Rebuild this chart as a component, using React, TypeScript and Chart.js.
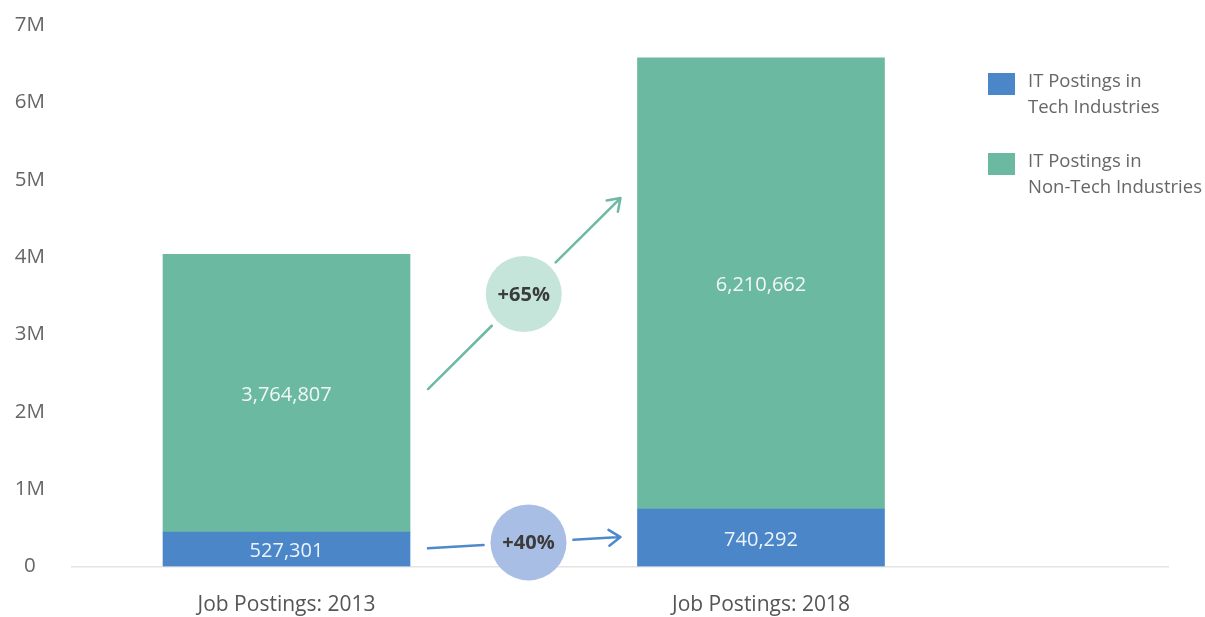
import React, { useEffect, useRef } from "react";
import { Chart, registerables } from "chart.js";

Chart.register(...registerables);

// ---- data ----
const categories = ["Job Postings: 2013", "Job Postings: 2018"];
const seriesNames = [
  ["IT Postings in", "Tech Industries"],
  ["IT Postings in", "Non-Tech Industries"],
];
// values printed on the bars
const techPrinted = [527301, 740292];
const nonTechPrinted = [3764807, 6210662];
// segment heights as drawn in the picture
const techBars = [445000, 742000];
const nonTechBars = [3590000, 5835000];
const yTicks = [0, 1000000, 2000000, 3000000, 4000000, 5000000, 6000000, 7000000];
const yTickLabels = ["0", "1M", "2M", "3M", "4M", "5M", "6M", "7M"];

// ---- styles ----
const FONT = "'Open Sans', 'Noto Sans', sans-serif";
const BLUE = "#4A86C8";
const GREEN = "#6CB9A2";
const GREEN_LINE = "#6DB9A3";
const BLUE_LINE = "#4E8ACB";
const GREEN_CIRCLE = "#C5E5DA";
const BLUE_CIRCLE = "#A9BEE5";

const growth = (a: number[]) => Math.round((a[1] / a[0] - 1) * 100);

const valueLabelsPlugin = {
  id: "valueLabels",
  afterDatasetsDraw(chart: any) {
    const ctx = chart.ctx;
    const printed = [techPrinted, nonTechPrinted];
    ctx.save();
    ctx.font = `20px ${FONT}`;
    ctx.fillStyle = "rgba(255,255,255,0.9)";
    ctx.textAlign = "center";
    ctx.textBaseline = "middle";
    chart.data.datasets.forEach((_: any, di: number) => {
      const meta = chart.getDatasetMeta(di);
      meta.data.forEach((el: any, i: number) => {
        const { x, y, base } = el.getProps(["x", "y", "base"], true);
        ctx.fillText(printed[di][i].toLocaleString("en-US"), x, (y + base) / 2 + 2);
      });
    });
    ctx.restore();
  },
};

function drawArrow(
  ctx: CanvasRenderingContext2D,
  x0: number, y0: number, x1: number, y1: number,
  cxVal: number, r: number, color: string, fill: string, text: string
) {
  const dx = x1 - x0, dy = y1 - y0;
  const len = Math.hypot(dx, dy);
  const ux = dx / len, uy = dy / len;
  const t = (cxVal - x0) / dx;
  const cx = x0 + dx * t, cy = y0 + dy * t;
  const gap = r + 7;
  ctx.save();
  ctx.strokeStyle = color;
  ctx.lineWidth = 2.5;
  ctx.lineCap = "round";
  ctx.lineJoin = "round";
  ctx.beginPath();
  ctx.moveTo(x0, y0);
  ctx.lineTo(cx - ux * gap, cy - uy * gap);
  ctx.moveTo(cx + ux * gap, cy + uy * gap);
  ctx.lineTo(x1, y1);
  // arrow head
  const ang = Math.atan2(dy, dx);
  const hl = 14;
  const spread = 0.6;
  ctx.moveTo(x1 - hl * Math.cos(ang - spread), y1 - hl * Math.sin(ang - spread));
  ctx.lineTo(x1, y1);
  ctx.lineTo(x1 - hl * Math.cos(ang + spread), y1 - hl * Math.sin(ang + spread));
  ctx.stroke();
  ctx.beginPath();
  ctx.arc(cx, cy, r, 0, Math.PI * 2);
  ctx.fillStyle = fill;
  ctx.fill();
  ctx.fillStyle = "#3b3b3b";
  ctx.font = `bold 20px ${FONT}`;
  ctx.textAlign = "center";
  ctx.textBaseline = "middle";
  ctx.fillText(text, cx, cy + 1);
  ctx.restore();
}

const growthPlugin = {
  id: "growthArrows",
  afterDraw(chart: any) {
    const ctx = chart.ctx;
    const xs = chart.scales.x;
    const ys = chart.scales.y;
    const b0 = chart.getDatasetMeta(0).data[0].getProps(["x", "width"], true);
    const b1 = chart.getDatasetMeta(0).data[1].getProps(["x", "width"], true);
    const xStart = b0.x + b0.width / 2 + 18;
    const xEnd = b1.x - b1.width / 2 - 17;
    // non-tech growth arrow
    drawArrow(
      ctx, xStart, ys.getPixelForValue(2294000), xEnd, ys.getPixelForValue(4763000),
      xs.getPixelForValue(0.5), 38, GREEN_LINE, GREEN_CIRCLE, `+${growth(nonTechPrinted)}%`
    );
    // tech growth arrow
    drawArrow(
      ctx, xStart, ys.getPixelForValue(235000), xEnd, ys.getPixelForValue(380000),
      xs.getPixelForValue(0.51), 38, BLUE_LINE, BLUE_CIRCLE, `+${growth(techPrinted)}%`
    );
  },
};

const legendPlugin = {
  id: "sideLegend",
  afterDraw(chart: any) {
    const ctx = chart.ctx;
    const colors = [BLUE, GREEN];
    ctx.save();
    ctx.font = `18.5px ${FONT}`;
    ctx.textAlign = "left";
    ctx.textBaseline = "middle";
    seriesNames.forEach((lines, i) => {
      const top = 73 + i * 80;
      ctx.fillStyle = colors[i];
      ctx.fillRect(988, top, 27, 22);
      ctx.fillStyle = "#666666";
      lines.forEach((ln, j) => ctx.fillText(ln, 1028, top + 9 + j * 26));
    });
    ctx.restore();
  },
};

export default function App() {
  const ref = useRef<HTMLCanvasElement>(null);
  useEffect(() => {
    document.body.style.margin = "0";
    const canvas = ref.current!;
    const chart = new Chart(canvas, {
      type: "bar",
      data: {
        datasets: [
          {
            label: seriesNames[0].join(" "),
            data: techBars.map((v, i) => ({ x: i, y: v })),
            backgroundColor: BLUE,
            borderWidth: 0,
            barThickness: 247,
          },
          {
            label: seriesNames[1].join(" "),
            data: nonTechBars.map((v, i) => ({ x: i, y: v })),
            backgroundColor: GREEN,
            borderWidth: 0,
            barThickness: 247,
          },
        ],
      } as any,
      options: {
        animation: false,
        responsive: false,
        layout: { padding: { top: 25, right: 37, left: 0, bottom: 0 } },
        plugins: { legend: { display: false }, tooltip: { enabled: false } },
        scales: {
          x: {
            type: "linear",
            stacked: true,
            offset: false,
            bounds: "data",
            min: -0.4521,
            max: 1.8578,
            grid: { display: false, drawTicks: false },
            border: { display: true, color: "#e4e4e4", width: 1.5 },
            afterBuildTicks: (s: any) => {
              s.ticks = categories.map((_, i) => ({ value: i }));
            },
            afterFit: (s: any) => {
              s.height = 50.5;
              s.paddingLeft = 0;
              s.paddingRight = 0;
            },
            ticks: {
              padding: 26,
              color: "#555555",
              font: { family: FONT, size: 21 },
              autoSkip: false,
              maxRotation: 0,
              callback: (v: any) => categories[v] ?? "",
            },
          },
          y: {
            stacked: true,
            min: 0,
            max: 7000000,
            grid: { display: false, drawTicks: false },
            border: { display: false },
            afterBuildTicks: (s: any) => {
              s.ticks = yTicks.map((v) => ({ value: v }));
            },
            afterFit: (s: any) => {
              s.width = 72;
              s.paddingTop = 0;
              s.paddingBottom = 0;
            },
            ticks: {
              padding: 27,
              crossAlign: "center",
              color: "#666666",
              font: { family: FONT, size: 20.5 },
              callback: (v: any) => yTickLabels[yTicks.indexOf(v)] ?? "",
            },
          },
        },
      } as any,
      plugins: [valueLabelsPlugin, growthPlugin, legendPlugin],
    });
    return () => chart.destroy();
  }, []);
  return <canvas ref={ref} width={1205} height={617} style={{ display: "block" }} />;
}
